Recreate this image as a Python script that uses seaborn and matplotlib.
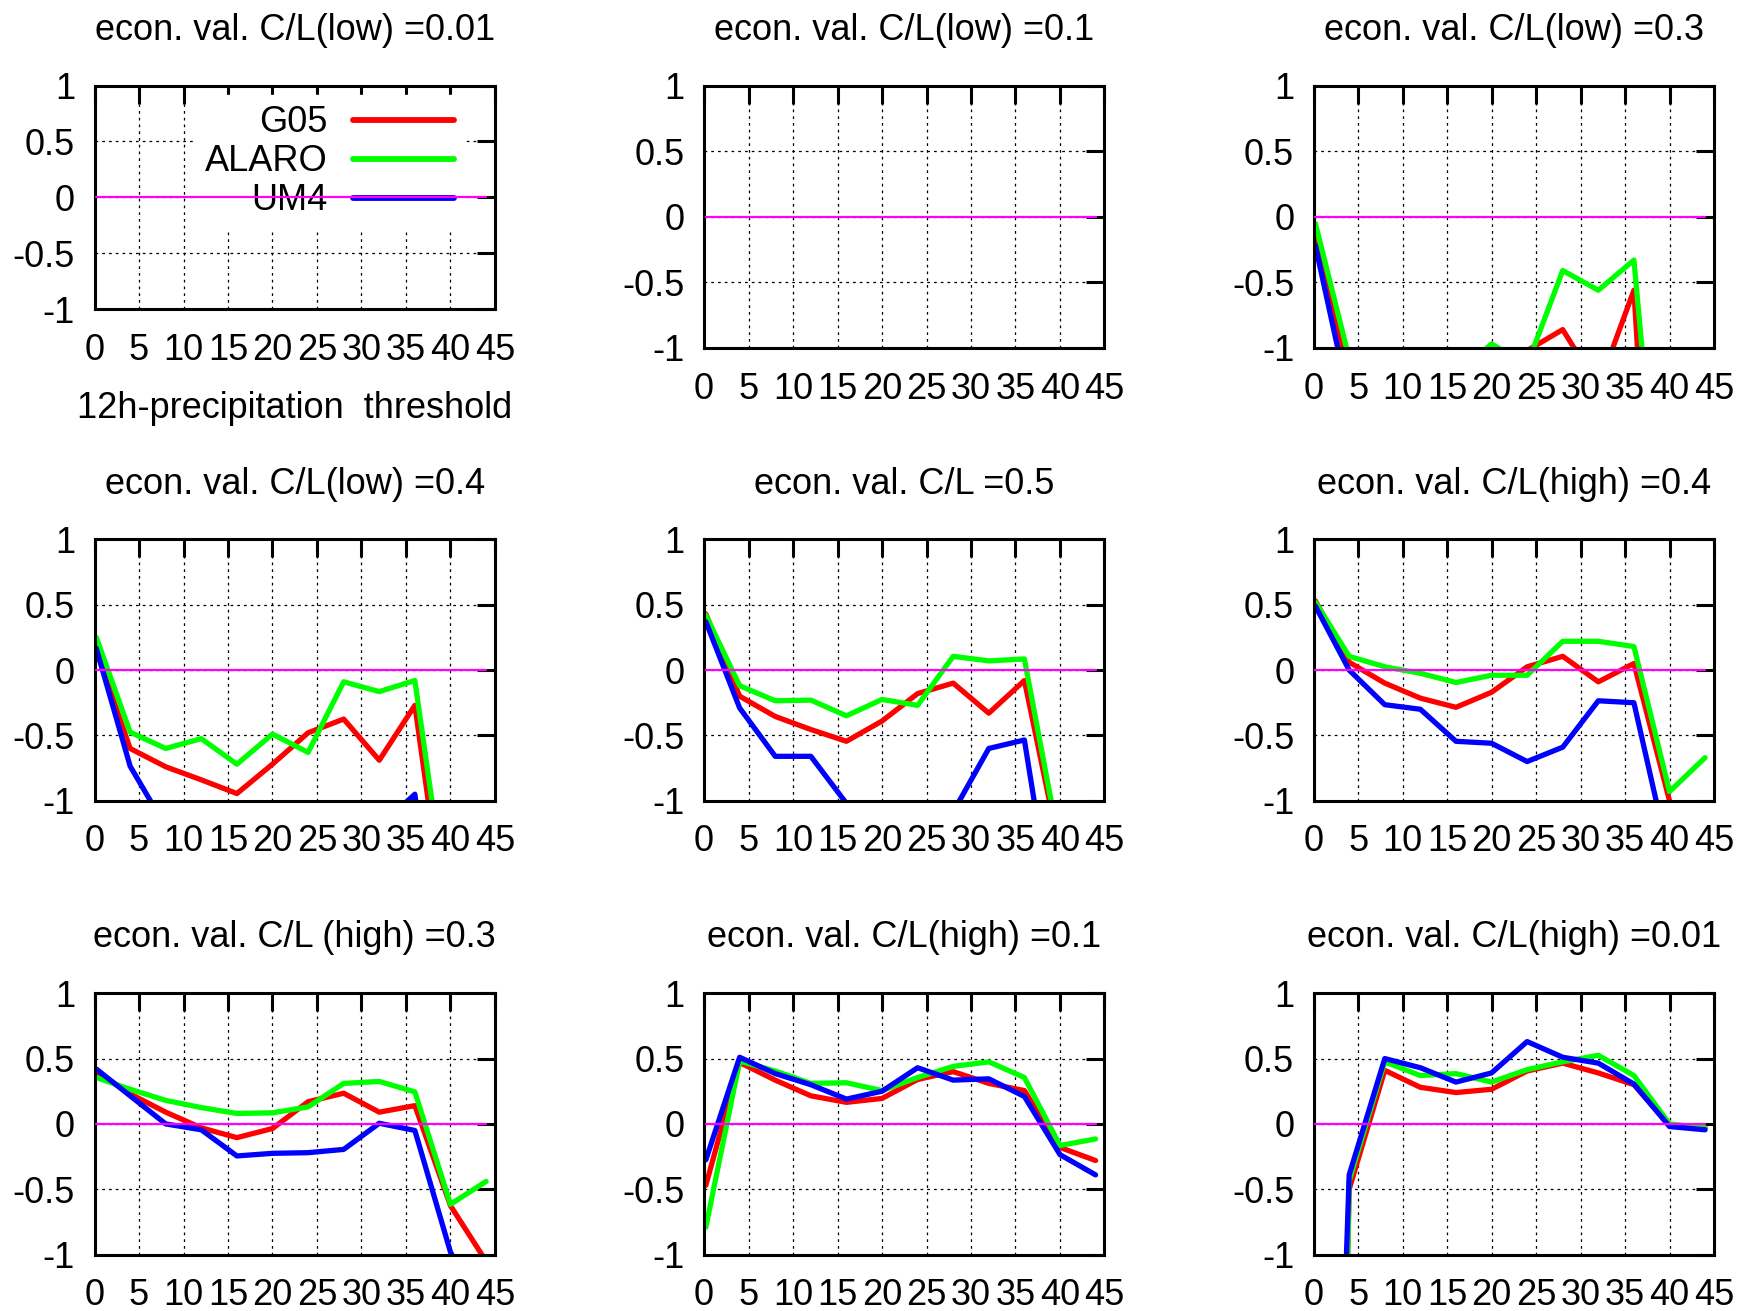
import matplotlib
matplotlib.use("Agg")
import matplotlib.pyplot as plt
from matplotlib.lines import Line2D
import seaborn as sns
import pandas as pd
import numpy as np

sns.set_style("white")
plt.rcParams['font.family'] = ['Liberation Sans', 'DejaVu Sans']
plt.rcParams['axes.unicode_minus'] = False
plt.rcParams['text.color'] = 'black'
plt.rcParams['xtick.color'] = 'black'
plt.rcParams['ytick.color'] = 'black'
plt.rcParams['axes.labelcolor'] = 'black'

# ---------------- data ----------------
thresholds = [0.2, 4, 8, 12, 16, 20, 24, 28, 32, 36, 40, 44]
models = ["G05", "ALARO", "UM4"]
colors = ["#ff0000", "#00ff00", "#0000ff"]

titles = [
    "econ. val. C/L(low) =0.01",
    "econ. val. C/L(low) =0.1",
    "econ. val. C/L(low) =0.3",
    "econ. val. C/L(low) =0.4",
    "econ. val. C/L =0.5",
    "econ. val. C/L(high) =0.4",
    "econ. val. C/L (high) =0.3",
    "econ. val. C/L(high) =0.1",
    "econ. val. C/L(high) =0.01",
]

# C/L(low)=0.01  (all values far below the plotted range)
g05_low001 = [-9.0, -14.0, -17.0, -19.0, -21.0, -20.0, -18.0, -17.0, -19.0, -16.0, -30.0, -35.0]
alaro_low001 = [-8.0, -12.0, -15.0, -16.0, -18.0, -17.0, -16.0, -14.0, -15.0, -13.0, -26.0, -30.0]
um4_low001 = [-10.0, -18.0, -22.0, -25.0, -27.0, -26.0, -24.0, -22.0, -23.0, -20.0, -38.0, -42.0]

# C/L(low)=0.1
g05_low01 = [-1.8, -3.6, -4.3, -4.8, -5.1, -4.9, -4.5, -4.2, -4.7, -4.0, -8.5, -10.0]
alaro_low01 = [-1.5, -3.2, -3.9, -4.1, -4.4, -4.2, -4.1, -3.5, -3.8, -3.4, -7.5, -8.5]
um4_low01 = [-2.2, -4.4, -5.3, -5.9, -6.4, -6.2, -5.8, -5.5, -5.6, -5.0, -10.5, -12.0]

# C/L(low)=0.3
g05_low03 = [-0.13, -1.2, -1.6, -1.9, -1.7, -1.4, -1.02, -0.86, -1.3, -0.56, -5.0, -6.5]
alaro_low03 = [-0.05, -1.08, -1.4, -1.5, -1.2, -0.97, -1.13, -0.41, -0.56, -0.33, -3.3, -4.5]
um4_low03 = [-0.22, -1.4, -2.0, -2.3, -2.2, -2.0, -1.8, -1.6, -1.9, -1.5, -6.0, -8.0]

# C/L(low)=0.4
g05_low04 = [0.15, -0.6, -0.74, -0.84, -0.945, -0.72, -0.48, -0.375, -0.69, -0.27, -2.22, -3.0]
alaro_low04 = [0.25, -0.475, -0.6, -0.525, -0.72, -0.49, -0.63, -0.09, -0.165, -0.08, -2.0, -2.5]
um4_low04 = [0.165, -0.735, -1.2, -1.4, -1.6, -1.5, -1.4, -1.3, -1.2, -0.95, -3.0, -4.0]

# C/L=0.5
g05_05 = [0.43, -0.2, -0.355, -0.455, -0.545, -0.39, -0.18, -0.1, -0.33, -0.08, -1.39, -2.0]
alaro_05 = [0.42, -0.12, -0.235, -0.23, -0.35, -0.225, -0.27, 0.105, 0.07, 0.085, -1.36, -1.9]
um4_05 = [0.37, -0.29, -0.66, -0.66, -1.02, -1.25, -1.3, -1.085, -0.6, -0.535, -2.23, -3.0]

# C/L(high)=0.4
g05_high04 = [0.53, 0.06, -0.1, -0.215, -0.285, -0.17, 0.025, 0.105, -0.09, 0.05, -1.0, -1.5]
alaro_high04 = [0.52, 0.105, 0.025, -0.025, -0.095, -0.04, -0.04, 0.22, 0.22, 0.18, -0.93, -0.67]
um4_high04 = [0.49, 0.0, -0.265, -0.3, -0.545, -0.56, -0.7, -0.59, -0.235, -0.25, -1.45, -2.0]

# C/L(high)=0.3
g05_high03 = [0.40, 0.23, 0.09, -0.03, -0.105, -0.035, 0.17, 0.235, 0.09, 0.14, -0.625, -1.05]
alaro_high03 = [0.355, 0.265, 0.18, 0.125, 0.08, 0.085, 0.13, 0.31, 0.325, 0.245, -0.615, -0.44]
um4_high03 = [0.42, 0.215, 0.0, -0.045, -0.245, -0.225, -0.22, -0.195, 0.005, -0.05, -0.98, -1.5]

# C/L(high)=0.1
g05_high01 = [-0.47, 0.47, 0.335, 0.215, 0.165, 0.195, 0.34, 0.4, 0.31, 0.255, -0.18, -0.28]
alaro_high01 = [-0.79, 0.48, 0.405, 0.31, 0.315, 0.255, 0.355, 0.44, 0.475, 0.355, -0.165, -0.115]
um4_high01 = [-0.275, 0.51, 0.385, 0.3, 0.19, 0.25, 0.43, 0.335, 0.345, 0.21, -0.235, -0.39]

# C/L(high)=0.01
g05_high001 = [-12.0, -0.5, 0.41, 0.28, 0.24, 0.265, 0.405, 0.465, 0.39, 0.3, -0.01, -0.03]
alaro_high001 = [-15.0, -0.435, 0.475, 0.37, 0.385, 0.32, 0.415, 0.475, 0.525, 0.37, 0.0, -0.03]
um4_high001 = [-8.0, -0.39, 0.5, 0.43, 0.32, 0.39, 0.63, 0.51, 0.465, 0.305, -0.02, -0.045]

panels = [
    (g05_low001, alaro_low001, um4_low001),
    (g05_low01, alaro_low01, um4_low01),
    (g05_low03, alaro_low03, um4_low03),
    (g05_low04, alaro_low04, um4_low04),
    (g05_05, alaro_05, um4_05),
    (g05_high04, alaro_high04, um4_high04),
    (g05_high03, alaro_high03, um4_high03),
    (g05_high01, alaro_high01, um4_high01),
    (g05_high001, alaro_high001, um4_high001),
]

xticks = [0, 5, 10, 15, 20, 25, 30, 35, 40, 45]
yticks = [-1, -0.5, 0, 0.5, 1]
ytick_labels = ["-1", "-0.5", "0", "0.5", "1"]

# ---------------- layout ----------------
fig = plt.figure(figsize=(17.44, 13.11), dpi=100)
col_left = [0.0542, 0.4037, 0.7532]
col_w = 0.2296
row_geo = [(0.7346, 0.2001), (0.3892, 0.1994), (0.0430, 0.1994)]

FS = 26
for i, (title, series) in enumerate(zip(titles, panels)):
    r, c = divmod(i, 3)
    b, h = row_geo[r]
    if i == 0:
        b, h = 0.7643, 0.1704
    ax = fig.add_axes([col_left[c], b, col_w, h])

    df = pd.DataFrame({
        "threshold": thresholds * 3,
        "value": list(series[0]) + list(series[1]) + list(series[2]),
        "model": [m for m in models for _ in thresholds],
    })
    sns.lineplot(data=df, x="threshold", y="value", hue="model",
                 hue_order=models, palette=colors, linewidth=3.8,
                 estimator=None, sort=False, legend=False, ax=ax, zorder=2)
    sns.lineplot(x=thresholds, y=[0.0] * len(thresholds), color="#ff00ff",
                 linewidth=1.6, ax=ax, zorder=3)

    ax.set_xlim(0, 45)
    ax.set_ylim(-1, 1)
    ax.set_xticks(xticks)
    ax.set_xticklabels([str(t) for t in xticks])
    ax.set_yticks(yticks)
    ax.set_yticklabels(ytick_labels)
    ax.set_xlabel("")
    ax.set_ylabel("")
    ax.tick_params(direction="in", length=13, width=2.2, top=True, right=True,
                   labelsize=FS, pad=14, color="black", labelcolor="black")
    ax.tick_params(axis="x", pad=17)
    for sp in ax.spines.values():
        sp.set_linewidth(2.2)
        sp.set_color("black")
    ax.grid(True, color="black", linestyle=(0, (2.2, 3.2)), linewidth=0.9)
    ax.set_axisbelow(True)
    ax.set_title(title, fontsize=26, pad=33, color="black")

    if i == 0:
        ax.set_xlabel("12h-precipitation  threshold", fontsize=FS, labelpad=17)
        handles = [Line2D([0], [0], color=col, lw=4.2) for col in colors]
        leg = ax.legend(handles, models, loc="upper right",
                        bbox_to_anchor=(0.925, 0.96), markerfirst=False,
                        fontsize=FS, handlelength=2.8, handletextpad=0.7,
                        labelspacing=0.11, borderpad=0.3, borderaxespad=0.0,
                        frameon=True, fancybox=False, framealpha=1.0,
                        facecolor="white", edgecolor="white")
        leg.set_zorder(2.5)

fig.savefig("out.png", dpi=100)
